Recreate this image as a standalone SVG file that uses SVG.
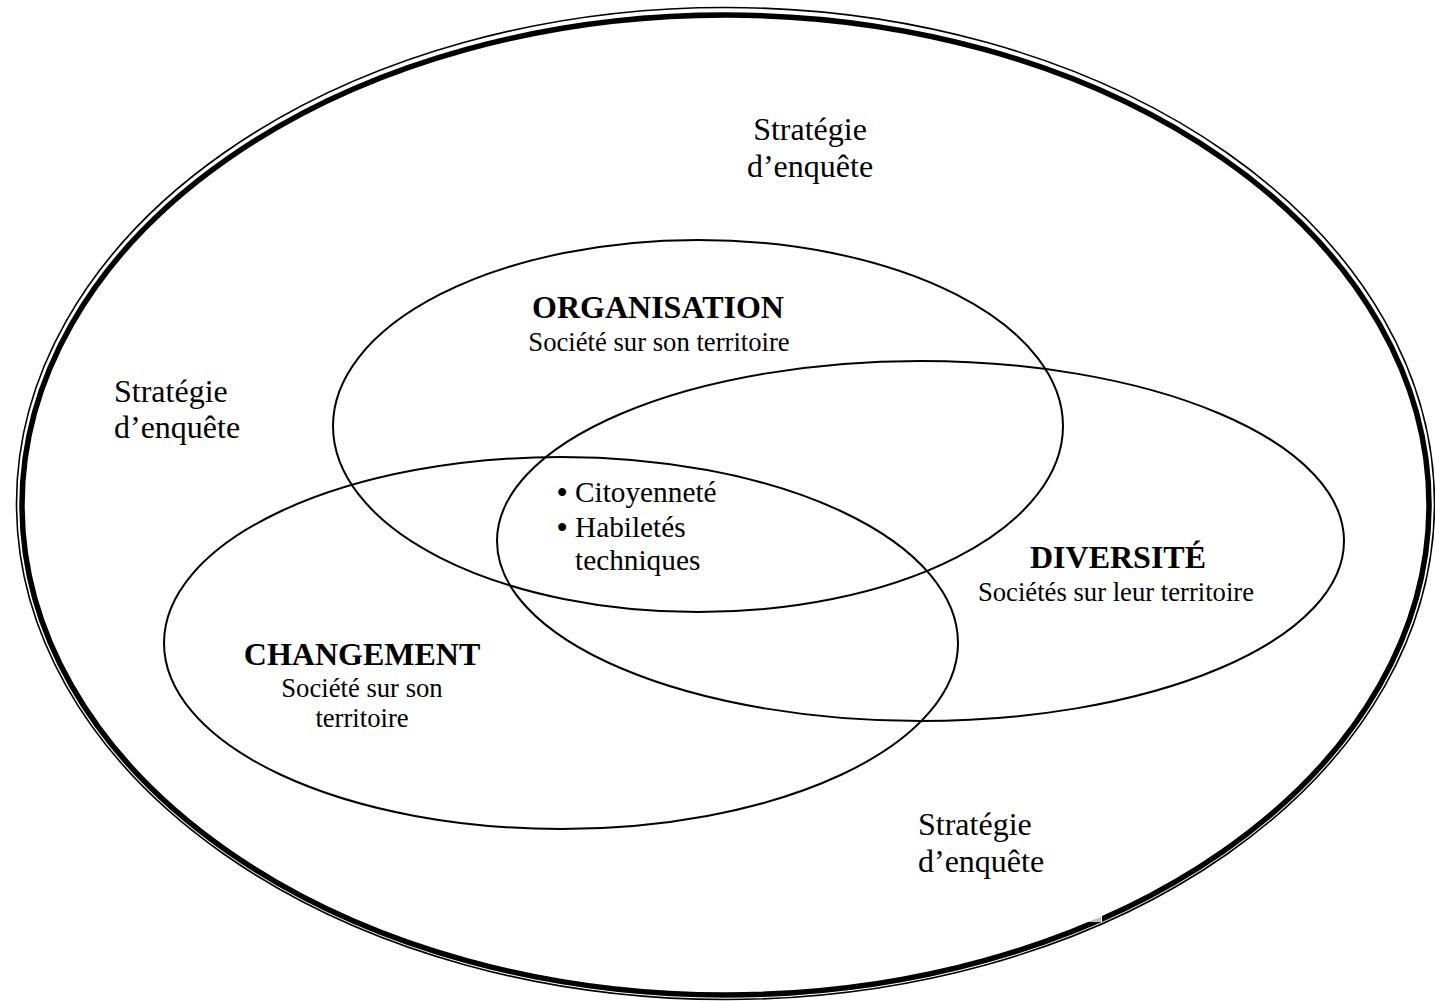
<svg xmlns="http://www.w3.org/2000/svg" width="1435" height="1001" viewBox="0 0 1435 1001">
<style>
.ring{fill:none;stroke:#000}
.set{fill:none;stroke:#000;stroke-width:2}
text{font-family:"Liberation Serif","Times New Roman",serif;fill:#000}
.big{font-size:32px}
.head{font-size:32px;font-weight:bold}
.sub{font-size:26.67px}
.item{font-size:29.3px}
.dot{font-weight:bold}
.c{text-anchor:middle}
</style>
<rect width="1435" height="1001" fill="#fff"/>
<g id="outer">
<ellipse class="ring" cx="725.5" cy="503.5" rx="709" ry="496" stroke-width="1.6"/>
<ellipse class="ring" cx="725.5" cy="505" rx="703.5" ry="490" stroke-width="5.5"/>
<rect x="1085" y="914" width="17" height="8" fill="#fff"/>
<polygon points="1087,922 1101,922 1101,917" fill="#bdbdbd"/>
</g>
<g id="connectors"></g>
<g id="organisation">
<ellipse class="set" cx="698" cy="426" rx="365" ry="186"/>
<text class="head c" x="658" y="318">ORGANISATION</text>
<text class="sub c" x="659" y="351">Société sur son territoire</text>
</g>
<g id="diversite">
<ellipse class="set" cx="920.5" cy="541" rx="423.5" ry="180"/>
<text class="head c" x="1118" y="568">DIVERSITÉ</text>
<text class="sub c" x="1116" y="601">Sociétés sur leur territoire</text>
</g>
<g id="changement">
<ellipse class="set" cx="561" cy="643" rx="397" ry="186"/>
<text class="head c" x="362" y="665">CHANGEMENT</text>
<text class="sub c" x="362" y="697">Société sur son</text>
<text class="sub c" x="362" y="727">territoire</text>
</g>
<g id="centre">
<text class="item" x="557" y="502"><tspan class="dot">•</tspan><tspan x="575">Citoyenneté</tspan></text>
<text class="item" x="557" y="537"><tspan class="dot">•</tspan><tspan x="575">Habiletés</tspan></text>
<text class="item" x="575" y="570">techniques</text>
</g>
<g id="strategie-top">
<text class="big c" x="810" y="140">Stratégie</text>
<text class="big c" x="810" y="177">d’enquête</text>
</g>
<g id="strategie-left">
<text class="big" x="114" y="402">Stratégie</text>
<text class="big" x="114" y="438">d’enquête</text>
</g>
<g id="strategie-bottom">
<text class="big" x="918" y="835">Stratégie</text>
<text class="big" x="918" y="872">d’enquête</text>
</g>
</svg>
